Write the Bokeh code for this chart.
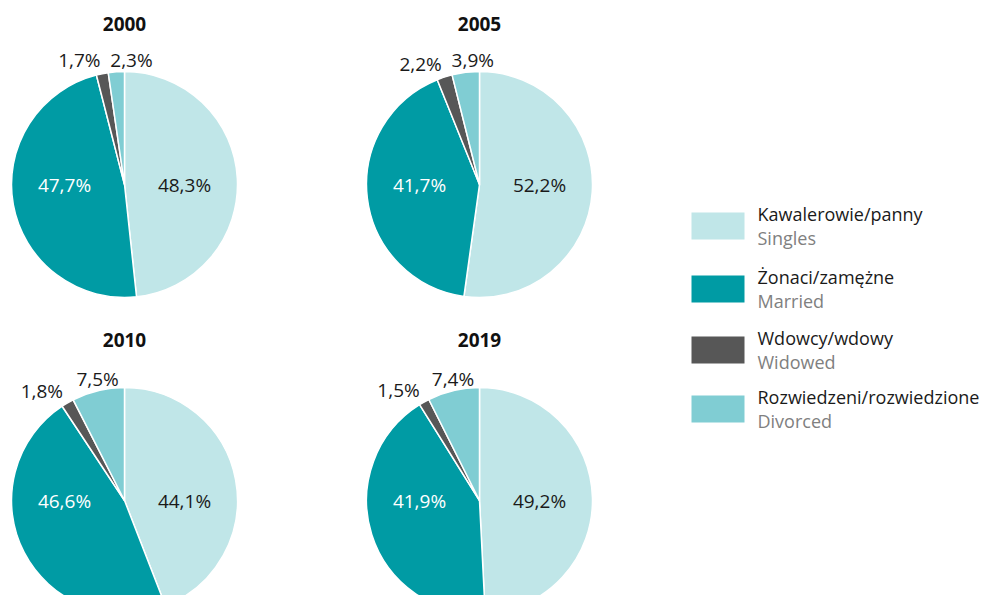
import math
from bokeh.plotting import figure
from bokeh.models import Range1d, ColumnDataSource
from bokeh.core.properties import value
from bokeh.embed import file_html
from bokeh.resources import INLINE

# ---- data ----
years = ["2000", "2005", "2010", "2019"]
singles = [48.3, 52.2, 44.1, 49.2]
married = [47.7, 41.7, 46.6, 41.9]
widowed = [1.7, 2.2, 1.8, 1.5]
divorced = [2.3, 3.9, 7.5, 7.4]

cat_pl = ["Kawalerowie/panny", "Żonaci/zamężne", "Wdowcy/wdowy", "Rozwiedzeni/rozwiedzione"]
cat_en = ["Singles", "Married", "Widowed", "Divorced"]
colors = ["#c0e6e8", "#009ba4", "#575757", "#80cdd3"]

FONT = value("Open Sans")
W, H = 982, 595
R = 113

p = figure(width=W, height=H, output_backend="svg", toolbar_location=None,
           x_range=Range1d(0, W), y_range=Range1d(-H, 0), min_border=0,
           x_axis_type=None, y_axis_type=None)
p.grid.visible = False
p.outline_line_color = None
p.background_fill_color = "white"
p.border_fill_color = "white"

centers = [(124, 184), (479, 184), (124, 500), (479, 500)]


def fmt(v):
    return f"{v:.1f}".replace(".", ",") + "%"


wx, wy, ws, we, wc = [], [], [], [], []
tx, ty, tt, tcol, talign = [], [], [], [], []
for i, yr in enumerate(years):
    cx, cy = centers[i]
    vals = [singles[i], married[i], widowed[i], divorced[i]]
    tot = sum(vals)
    cum = 0.0
    mids = []
    for v, c in zip(vals, colors):
        a0 = math.pi / 2 - 2 * math.pi * cum / tot
        cum += v
        a1 = math.pi / 2 - 2 * math.pi * cum / tot
        wx.append(cx); wy.append(-cy); ws.append(a0); we.append(a1); wc.append(c)
        mids.append(2 * math.pi * (cum - v / 2) / tot)  # clockwise from top
    # inner labels on the horizontal midline
    tx += [cx + 60, cx - 60]
    ty += [-cy, -cy]
    tt += [fmt(singles[i]), fmt(married[i])]
    tcol += ["#1a1a1a", "#ffffff"]
    talign += ["center", "center"]
    # widowed label: right aligned outside
    mw = mids[2]
    w_right = 122 * math.sin(mw)
    tx.append(cx + w_right)
    ty.append(-(cy - 127 * math.cos(mw)))
    tt.append(fmt(widowed[i])); tcol.append("#1a1a1a"); talign.append("right")
    # divorced label: centred outside, pushed right to avoid overlap
    md = mids[3]
    d_c = max(115 * math.sin(md), w_right + 31)
    tx.append(cx + d_c)
    ty.append(-(cy - 125 * math.cos(md)))
    tt.append(fmt(divorced[i])); tcol.append("#1a1a1a"); talign.append("center")

p.wedge(x=wx, y=wy, radius=R, start_angle=ws, end_angle=we, direction="clock",
        fill_color=wc, line_color="white", line_width=1.5)

src = ColumnDataSource(dict(x=tx, y=ty, t=tt, c=tcol, a=talign))
p.text(x="x", y="y", text="t", text_color="c", text_align="a", text_baseline="middle",
       text_font=FONT, text_font_size="19px", source=src)

# titles
p.text(x=[c[0] for c in centers], y=[-(c[1] - 161) for c in centers], text=years,
       text_align="center", text_baseline="middle", text_font=FONT,
       text_font_size="19px", text_font_style="bold", text_color="#111111")

# legend
lx = 717.5
ly = [225.5, 288.5, 349.5, 408.5]
p.rect(x=[lx] * 4, y=[-v for v in ly], width=53, height=27, fill_color=colors,
       line_color=None)
p.text(x=[757] * 4, y=[-(v - 12) for v in ly], text=cat_pl, text_align="left",
       text_baseline="middle", text_font=FONT, text_font_size="18px", text_color="#1a1a1a")
p.text(x=[757] * 4, y=[-(v + 12) for v in ly], text=cat_en, text_align="left",
       text_baseline="middle", text_font=FONT, text_font_size="18px", text_color="#808080")

open("out.html", "w").write(file_html(p, INLINE))
